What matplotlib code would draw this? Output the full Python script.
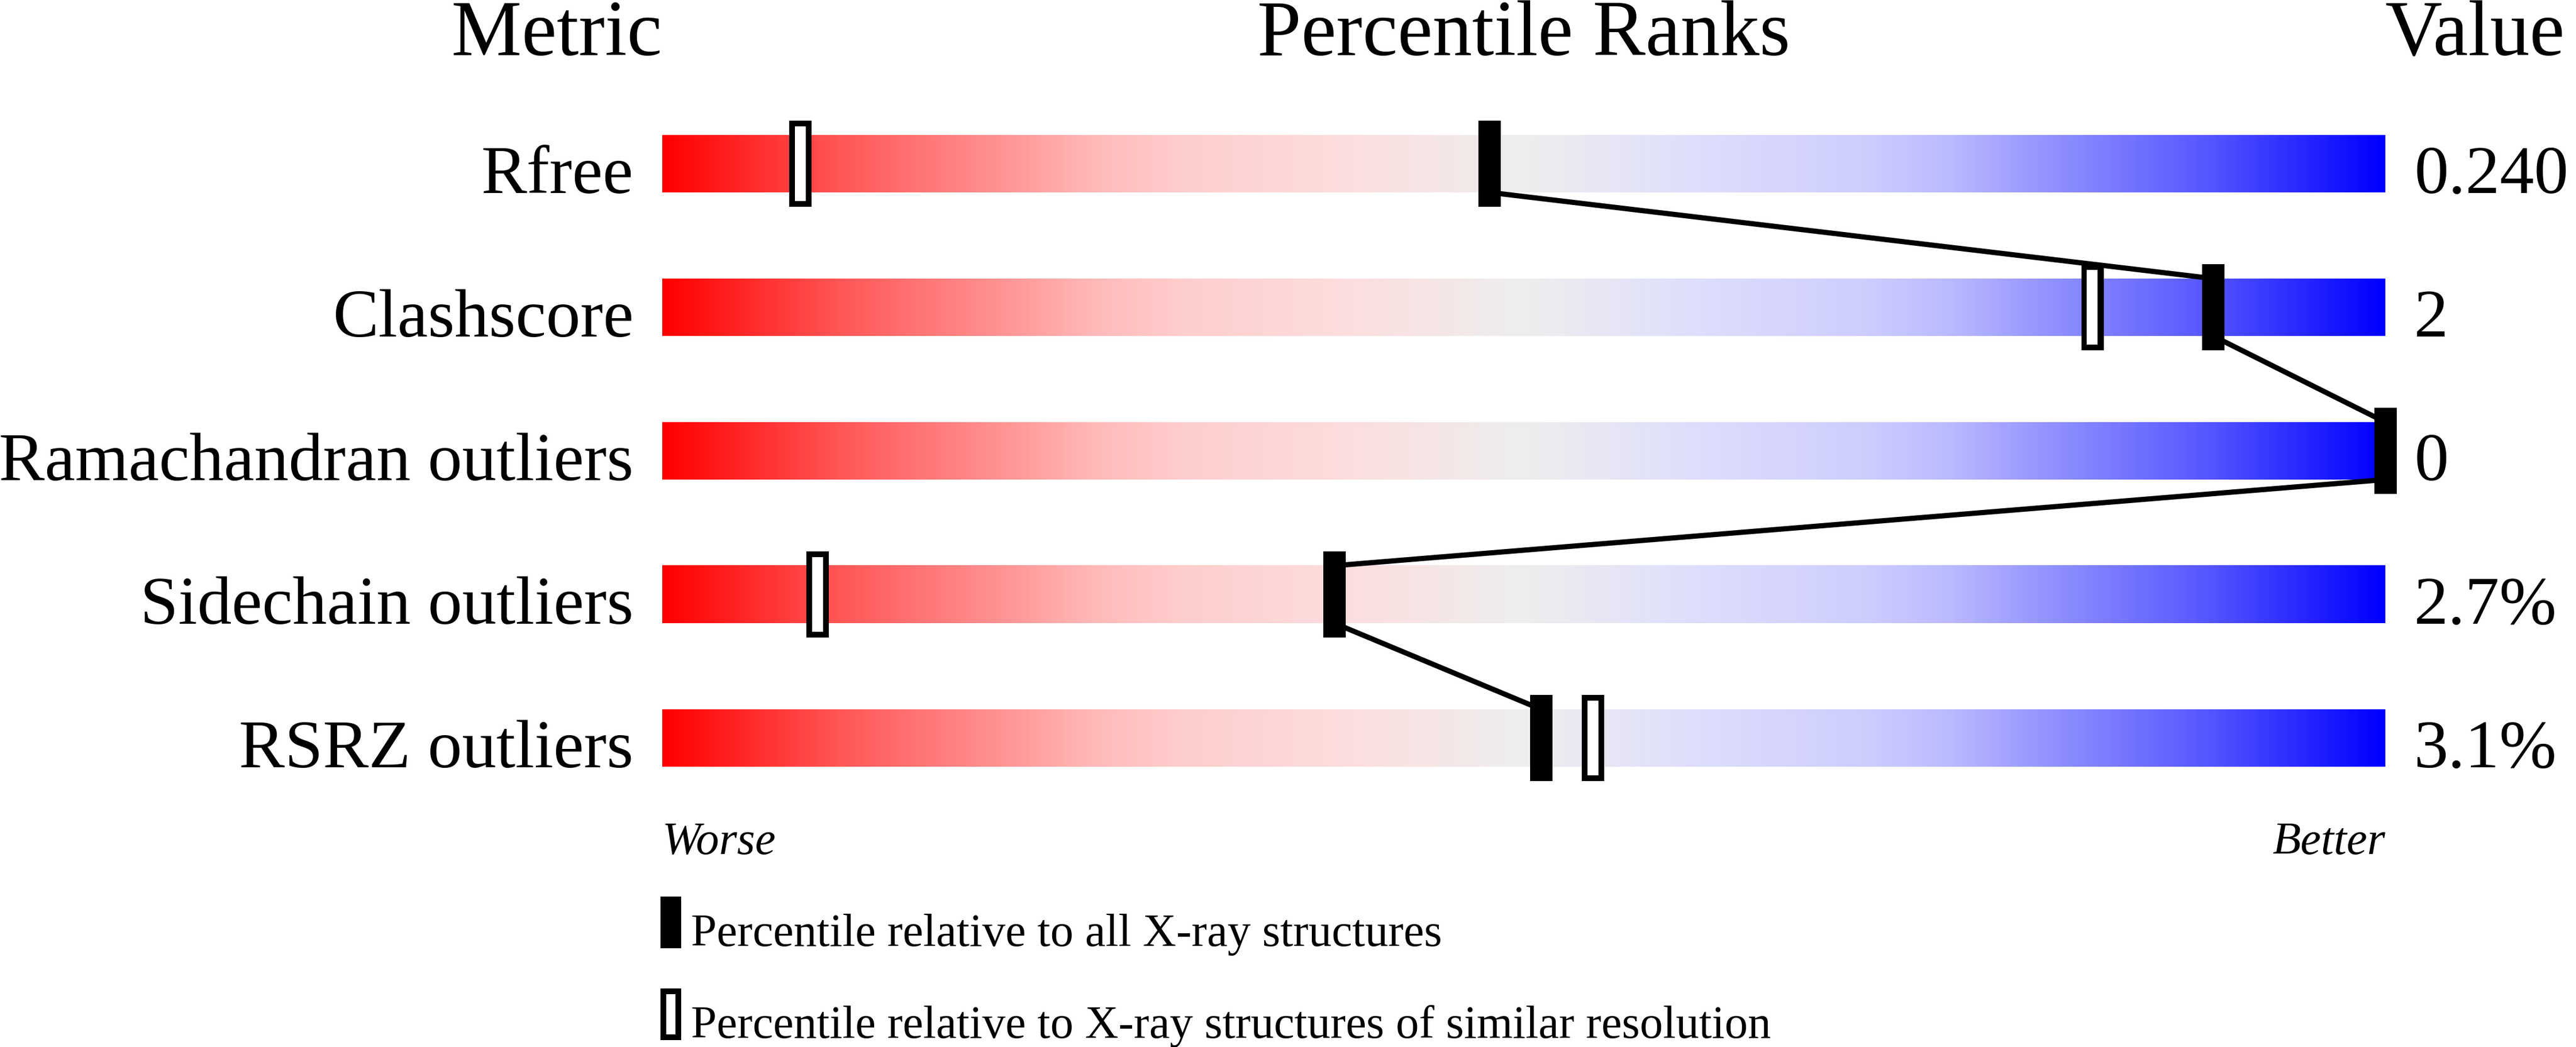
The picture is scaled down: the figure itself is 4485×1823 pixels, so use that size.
import numpy as np
import matplotlib
matplotlib.use("Agg")
import matplotlib.pyplot as plt
from matplotlib.colors import LinearSegmentedColormap
from matplotlib.patches import Rectangle

SERIF = 'Liberation Serif'
plt.rcParams['font.family'] = SERIF

# data
metrics = ["Rfree", "Clashscore", "Ramachandran outliers", "Sidechain outliers", "RSRZ outliers"]
values = ["0.240", "2", "0", "2.7%", "3.1%"]
pct_all = [48, 90, 100, 39, 51]       # percentile vs all X-ray structures
pct_similar = [8, 83, 100, 9, 54]     # percentile vs similar resolution

# gradient of the slider: red (worse) -> grey -> blue (better)
grad_nodes = [
    (0.00, (255, 0, 0)),
    (0.10, (255, 85, 85)),
    (0.20, (255, 150, 150)),
    (0.25, (255, 185, 185)),
    (0.30, (255, 205, 205)),
    (0.40, (252, 222, 222)),
    (0.50, (238, 238, 238)),
    (0.60, (222, 222, 252)),
    (0.70, (205, 205, 255)),
    (0.75, (185, 185, 255)),
    (0.80, (150, 150, 255)),
    (0.90, (85, 85, 255)),
    (1.00, (0, 0, 255)),
]
cmap = LinearSegmentedColormap.from_list(
    "slider", [(p, tuple(c / 255 for c in rgb)) for p, rgb in grad_nodes], N=512)

W, H = 4485, 1824
fig = plt.figure(figsize=(W / 100, H / 100), dpi=100)
ax = fig.add_axes([0, 0, 1, 1])
# 0..100 percent spans pixel 1153..4153, rows 250 px apart starting at 286
px_per_pct = 30.0
ax.set_xlim(-1153 / px_per_pct, (W - 1153) / px_per_pct)
ax.set_ylim((H - 286) / 250, -286 / 250)
ax.axis("off")

bar_h = 0.4
mk_h = 0.6
mk_w = 1.3
edge_x = 10 / px_per_pct
edge_y = 10 / 250

grad = np.linspace(0, 1, 512).reshape(1, -1)
rows = np.arange(len(metrics))
for r in rows:
    ax.imshow(grad, cmap=cmap, aspect="auto", interpolation="bilinear",
              extent=(0, 100, r + bar_h / 2, r - bar_h / 2), zorder=1)

# connecting line through the "all structures" markers
for i in range(len(rows) - 1):
    ax.plot([pct_all[i], pct_all[i + 1]],
            [rows[i] + bar_h / 2, rows[i + 1] - bar_h / 2],
            color="black", lw=6.5, solid_capstyle="butt", zorder=2)


def open_marker(x, y, w, h, z):
    ax.add_patch(Rectangle((x - w / 2, y - h / 2), w, h, facecolor="black",
                           edgecolor="none", zorder=z))
    ax.add_patch(Rectangle((x - w / 2 + edge_x, y - h / 2 + edge_y),
                           w - 2 * edge_x, h - 2 * edge_y,
                           facecolor="white", edgecolor="none", zorder=z))


def filled_marker(x, y, w, h, z):
    ax.add_patch(Rectangle((x - w / 2, y - h / 2), w, h, facecolor="black",
                           edgecolor="none", zorder=z))


for r in rows:
    open_marker(pct_similar[r], r, mk_w, mk_h, 3)
    filled_marker(pct_all[r], r, mk_w, mk_h, 4)

# labels
lab_fs = 86
for r in rows:
    ax.text(-50 / px_per_pct, r + bar_h / 2, metrics[r], ha="right", va="baseline",
            fontsize=lab_fs, family=SERIF)
    ax.text(100 + 50 / px_per_pct, r + bar_h / 2, values[r], ha="left",
            va="baseline", fontsize=lab_fs, family=SERIF)

# header
hy = (96 - 286) / 250
ax.text(0, hy, "Metric", ha="right", va="baseline", fontsize=99, family=SERIF)
ax.text(50, hy, "Percentile Ranks", ha="center", va="baseline", fontsize=99, family=SERIF)
ax.text(100, hy, "Value", ha="left", va="baseline", fontsize=99, family=SERIF)

# worse / better
wy = (1487 - 286) / 250
ax.text(0, wy, "Worse", ha="left", va="baseline", fontsize=58, style="italic", family=SERIF)
ax.text(100, wy, "Better", ha="right", va="baseline", fontsize=58, style="italic", family=SERIF)

# legend
lg_x = (1168 - 1153) / px_per_pct
lg_w = 36 / px_per_pct
lg_h = 90 / 250
y1 = (1607 - 286) / 250
y2 = (1767 - 286) / 250
filled_marker(lg_x, y1, lg_w, lg_h, 4)
open_marker(lg_x, y2, lg_w, lg_h, 4)
ax.text((1203 - 1153) / px_per_pct, y1 + lg_h / 2 - 5 / 250,
        "Percentile relative to all X-ray structures",
        ha="left", va="baseline", fontsize=58, family=SERIF)
ax.text((1203 - 1153) / px_per_pct, y2 + lg_h / 2 - 5 / 250,
        "Percentile relative to X-ray structures of similar resolution",
        ha="left", va="baseline", fontsize=58, family=SERIF)

fig.savefig("out.png", dpi=100, facecolor="white")
